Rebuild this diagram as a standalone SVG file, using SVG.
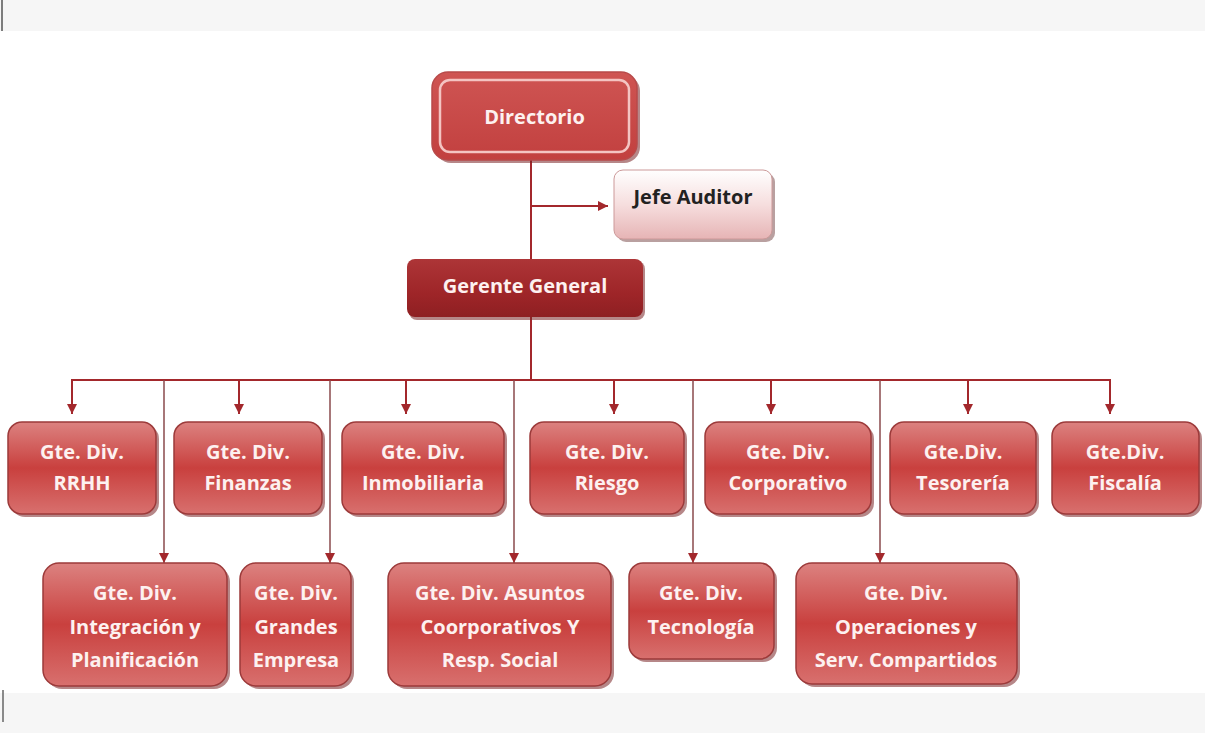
<svg xmlns="http://www.w3.org/2000/svg" width="1205" height="733" viewBox="0 0 1205 733">
<defs>
<linearGradient id="gBox" x1="0" y1="0" x2="0" y2="1">
<stop offset="0" stop-color="#dc8280"/>
<stop offset="0.5" stop-color="#c9403e"/>
<stop offset="1" stop-color="#d8706e"/>
</linearGradient>
<linearGradient id="gDir" x1="0" y1="0" x2="0" y2="1">
<stop offset="0" stop-color="#cf5553"/>
<stop offset="1" stop-color="#c2403f"/>
</linearGradient>
<linearGradient id="gGer" x1="0" y1="0" x2="0" y2="1">
<stop offset="0" stop-color="#ad3537"/>
<stop offset="0.6" stop-color="#9e2528"/>
<stop offset="1" stop-color="#8e1f22"/>
</linearGradient>
<linearGradient id="gJefe" x1="0" y1="0" x2="0" y2="1">
<stop offset="0" stop-color="#ffffff"/>
<stop offset="0.5" stop-color="#f6dede"/>
<stop offset="1" stop-color="#e6b4b5"/>
</linearGradient>
<marker id="arr" viewBox="0 0 10 10" refX="10" refY="5" markerWidth="10" markerHeight="10" markerUnits="userSpaceOnUse" orient="auto">
<path d="M0,0 L10,5 L0,10 Z" fill="#a3282c"/>
</marker>
</defs>
<style>
.box{fill:url(#gBox);stroke:#9c3a3a;stroke-width:1.5}
.shadow{fill:#7a2426;opacity:0.55}
.t{font-family:"Open Sans","Liberation Sans",sans-serif;font-weight:bold;font-size:20px;fill:#fdf1f0;text-anchor:middle}
.dk{fill:#222}
.c{fill:none;stroke:#a3282c;stroke-width:2}
.cg{fill:none;stroke:#8a4a4c;stroke-width:1.5}
</style>
<rect x="0" y="0" width="1205" height="733" fill="#ffffff"/>
<rect x="0" y="0" width="1205" height="31" fill="#f6f6f6"/>
<line x1="2" y1="0" x2="2" y2="31" stroke="#555" stroke-width="1.5"/>
<rect x="0" y="693" width="1205" height="40" fill="#f6f6f6"/>
<line x1="3" y1="690" x2="3" y2="722" stroke="#666" stroke-width="1.5"/>

<g id="connectors">
<line class="c" x1="531" y1="160" x2="531" y2="380"/>
<line class="c" x1="531" y1="206" x2="608" y2="206" marker-end="url(#arr)"/>
<line class="c" x1="72" y1="380" x2="1110" y2="380"/>
<line class="c" x1="72" y1="379" x2="72" y2="414" marker-end="url(#arr)"/>
<line class="c" x1="239" y1="380" x2="239" y2="414" marker-end="url(#arr)"/>
<line class="c" x1="406" y1="380" x2="406" y2="414" marker-end="url(#arr)"/>
<line class="c" x1="614" y1="380" x2="614" y2="414" marker-end="url(#arr)"/>
<line class="c" x1="771" y1="380" x2="771" y2="414" marker-end="url(#arr)"/>
<line class="c" x1="968" y1="380" x2="968" y2="414" marker-end="url(#arr)"/>
<line class="c" x1="1110" y1="379" x2="1110" y2="414" marker-end="url(#arr)"/>
<line class="cg" x1="164" y1="380" x2="164" y2="563" marker-end="url(#arr)"/>
<line class="cg" x1="330" y1="380" x2="330" y2="563" marker-end="url(#arr)"/>
<line class="cg" x1="514" y1="380" x2="514" y2="563" marker-end="url(#arr)"/>
<line class="cg" x1="693" y1="380" x2="693" y2="563" marker-end="url(#arr)"/>
<line class="cg" x1="880" y1="380" x2="880" y2="563" marker-end="url(#arr)"/>
</g>

<g id="directorio">
<rect x="435" y="75" width="205" height="88" rx="16" class="shadow"/>
<rect x="432" y="72" width="205" height="88" rx="16" fill="url(#gDir)" stroke="#b84a4a" stroke-width="1.5"/>
<rect x="440" y="80" width="189" height="72" rx="10" fill="none" stroke="#f4c4c2" stroke-width="2.5"/>
<text class="t" x="534.5" y="124">Directorio</text>
</g>

<g id="jefe-auditor">
<rect x="617" y="173" width="158" height="69" rx="9" fill="#8a6060" opacity="0.6"/>
<rect x="614" y="170" width="158" height="69" rx="9" fill="url(#gJefe)" stroke="#c99" stroke-width="1"/>
<text class="t dk" x="693" y="204">Jefe Auditor</text>
</g>

<g id="gerente-general">
<rect x="409" y="261" width="236" height="59" rx="8" class="shadow"/>
<rect x="407" y="259" width="236" height="58" rx="8" fill="url(#gGer)"/>
<text class="t" x="525" y="293">Gerente General</text>
</g>

<g id="rrhh">
<rect x="11" y="425" width="148" height="92" rx="14" class="shadow"/>
<rect x="8" y="422" width="148" height="92" rx="14" class="box"/>
<text class="t" x="82" y="459">Gte. Div.</text>
<text class="t" x="82" y="490">RRHH</text>
</g>
<g id="finanzas">
<rect x="177" y="425" width="148" height="92" rx="14" class="shadow"/>
<rect x="174" y="422" width="148" height="92" rx="14" class="box"/>
<text class="t" x="248" y="459">Gte. Div.</text>
<text class="t" x="248" y="490">Finanzas</text>
</g>
<g id="inmobiliaria">
<rect x="345" y="425" width="162" height="92" rx="14" class="shadow"/>
<rect x="342" y="422" width="162" height="92" rx="14" class="box"/>
<text class="t" x="423" y="459">Gte. Div.</text>
<text class="t" x="423" y="490">Inmobiliaria</text>
</g>
<g id="riesgo">
<rect x="533" y="425" width="154" height="92" rx="14" class="shadow"/>
<rect x="530" y="422" width="154" height="92" rx="14" class="box"/>
<text class="t" x="607" y="459">Gte. Div.</text>
<text class="t" x="607" y="490">Riesgo</text>
</g>
<g id="corporativo">
<rect x="708" y="425" width="166" height="92" rx="14" class="shadow"/>
<rect x="705" y="422" width="166" height="92" rx="14" class="box"/>
<text class="t" x="788" y="459">Gte. Div.</text>
<text class="t" x="788" y="490">Corporativo</text>
</g>
<g id="tesoreria">
<rect x="893" y="425" width="146" height="92" rx="14" class="shadow"/>
<rect x="890" y="422" width="146" height="92" rx="14" class="box"/>
<text class="t" x="963" y="459">Gte.Div.</text>
<text class="t" x="963" y="490">Tesorería</text>
</g>
<g id="fiscalia">
<rect x="1055" y="425" width="147" height="92" rx="14" class="shadow"/>
<rect x="1052" y="422" width="147" height="92" rx="14" class="box"/>
<text class="t" x="1125" y="459">Gte.Div.</text>
<text class="t" x="1125" y="490">Fiscalía</text>
</g>

<g id="integracion">
<rect x="46" y="566" width="184" height="123" rx="16" class="shadow"/>
<rect x="43" y="563" width="184" height="123" rx="16" class="box"/>
<text class="t" x="135" y="600">Gte. Div.</text>
<text class="t" x="135" y="634">Integración y</text>
<text class="t" x="135" y="667">Planificación</text>
</g>
<g id="grandes-empresa">
<rect x="243" y="566" width="111" height="123" rx="16" class="shadow"/>
<rect x="240" y="563" width="111" height="123" rx="16" class="box"/>
<text class="t" x="296" y="600">Gte. Div.</text>
<text class="t" x="296" y="634">Grandes</text>
<text class="t" x="296" y="667">Empresa</text>
</g>
<g id="asuntos">
<rect x="391" y="566" width="223" height="123" rx="16" class="shadow"/>
<rect x="388" y="563" width="223" height="123" rx="16" class="box"/>
<text class="t" x="500" y="600">Gte. Div. Asuntos</text>
<text class="t" x="500" y="634">Coorporativos Y</text>
<text class="t" x="500" y="667">Resp. Social</text>
</g>
<g id="tecnologia">
<rect x="632" y="566" width="145" height="96" rx="14" class="shadow"/>
<rect x="629" y="563" width="145" height="96" rx="14" class="box"/>
<text class="t" x="701" y="600">Gte. Div.</text>
<text class="t" x="701" y="634">Tecnología</text>
</g>
<g id="operaciones">
<rect x="799" y="566" width="221" height="121" rx="16" class="shadow"/>
<rect x="796" y="563" width="221" height="121" rx="16" class="box"/>
<text class="t" x="906" y="600">Gte. Div.</text>
<text class="t" x="906" y="634">Operaciones y</text>
<text class="t" x="906" y="667">Serv. Compartidos</text>
</g>
</svg>
